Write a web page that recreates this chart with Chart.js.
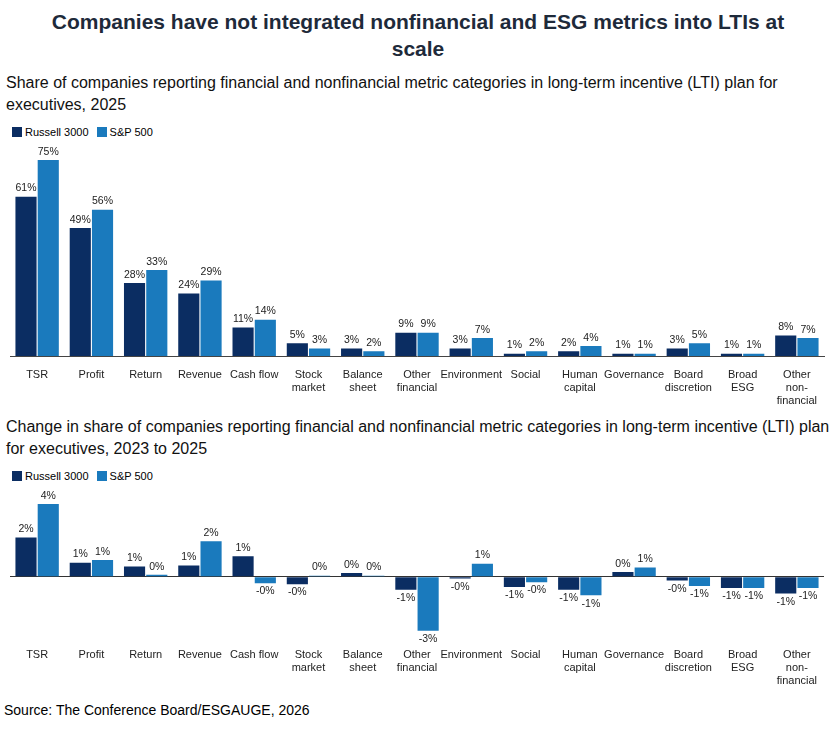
<!DOCTYPE html>
<html><head><meta charset="utf-8">
<script src="https://cdn.jsdelivr.net/npm/chart.js@4"></script>
<style>
body{margin:0;background:#fff;font-family:"Liberation Sans",Arial,sans-serif;color:#000;width:836px}
h1{font-size:21px;font-weight:bold;text-align:center;margin:8px 30px 0;line-height:27px;color:#1e2a3a}
.sub{font-size:16px;margin:10px 6px 0 6px;line-height:22px;color:#111}
.leg{font-size:11px;margin:10px 0 0 12px;height:14px}
.leg span{display:inline-block;width:10px;height:10px;vertical-align:-1px;margin-right:3px}
.leg b{font-weight:normal;margin-right:8px}
.wrap{position:relative;width:826px;margin-left:4px}
.src{font-size:14px;margin:10px 0 0 4px}
</style></head><body>
<h1>Companies have not integrated nonfinancial and ESG metrics into LTIs at scale</h1>
<div class="sub">Share of companies reporting financial and nonfinancial metric categories in long-term incentive (LTI) plan for executives, 2025</div>
<div class="leg"><span style="background:#0b2d62"></span><b>Russell 3000</b><span style="background:#1a7abd"></span><b>S&amp;P 500</b></div>
<div class="wrap" style="height:272px"><canvas id="c1"></canvas></div>
<div class="sub" style="margin-top:4px">Change in share of companies reporting financial and nonfinancial metric categories in long-term incentive (LTI) plan for executives, 2023 to 2025</div>
<div class="leg"><span style="background:#0b2d62"></span><b>Russell 3000</b><span style="background:#1a7abd"></span><b>S&amp;P 500</b></div>
<div class="wrap" style="height:208px"><canvas id="c2"></canvas></div>
<div class="src">Source: The Conference Board/ESGAUGE, 2026</div>
<script>
// CATEGORIES
const categories = ["TSR","Profit","Return","Revenue","Cash flow",["Stock","market"],["Balance","sheet"],["Other","financial"],"Environment","Social",["Human","capital"],"Governance",["Board","discretion"],["Broad","ESG"],["Other","non-","financial"]];

// 2025 SHARE (%)
const russell2025 = [61,49,28,24,11,5,3,9,3,1,2,1,3,1,8];
const sp2025 = [75,56,33,29,14,3,2,9,7,2,4,1,5,1,7];

// CHANGE 2023 TO 2025 (percentage points)
const russellChange = [2.1,0.75,0.55,0.6,1.1,-0.4,0.2,-0.7,-0.1,-0.55,-0.7,0.25,-0.2,-0.6,-0.9];
const spChange = [3.9,0.9,0.1,1.9,-0.35,0.05,0.05,-2.9,0.7,-0.3,-1.0,0.5,-0.5,-0.6,-0.6];

const NAVY = "#0b2d62", BLUE = "#1a7abd";

function fmt(v) {
  const r = Math.round(Math.abs(v));
  return (v < 0 ? "-" : "") + r + "%";
}

// VALUE LABELS
const valueLabels = {
  id: "valueLabels",
  afterDatasetsDraw(chart) {
    const ctx = chart.ctx;
    ctx.save();
    ctx.font = "10.5px 'Liberation Sans', Arial, sans-serif";
    ctx.fillStyle = "#222";
    ctx.textAlign = "center";
    chart.data.datasets.forEach((ds, i) => {
      chart.getDatasetMeta(i).data.forEach((bar, j) => {
        const v = ds.data[j];
        if (v < 0) {
          ctx.textBaseline = "top";
          ctx.fillText(fmt(v), bar.x, Math.max(bar.y, bar.base) + 3);
        } else {
          ctx.textBaseline = "bottom";
          ctx.fillText(fmt(v), bar.x, Math.min(bar.y, bar.base) - 3);
        }
      });
    });
    ctx.restore();
  }
};

function makeChart(id, a, b, min, max) {
  return new Chart(document.getElementById(id), {
    type: "bar",
    data: {
      labels: categories,
      datasets: [
        { label: "Russell 3000", data: a, backgroundColor: NAVY, categoryPercentage: 0.82, barPercentage: 0.95 },
        { label: "S&P 500", data: b, backgroundColor: BLUE, categoryPercentage: 0.82, barPercentage: 0.95 }
      ]
    },
    options: {
      responsive: true,
      maintainAspectRatio: false,
      animation: false,
      layout: { padding: { top: 20, left: 6, right: 6 } },
      plugins: { legend: { display: false }, tooltip: { enabled: false } },
      scales: {
        x: {
          grid: { display: false },
          border: { display: min >= 0, color: "#444" },
          ticks: { color: "#222", font: { size: 11, family: "'Liberation Sans', Arial" }, maxRotation: 0, autoSkip: false, padding: 4 }
        },
        y: {
          display: true, min: min, max: max,
          ticks: { display: false },
          border: { display: false },
          grid: {
            drawTicks: false,
            color: ctx => ctx.tick.value === 0 && min < 0 ? "#333" : "transparent"
          }
        }
      }
    },
    plugins: [valueLabels]
  });
}

makeChart("c1", russell2025, sp2025, 0, 75);
makeChart("c2", russellChange, spChange, -3.2, 3.9);
</script>
</body></html>
